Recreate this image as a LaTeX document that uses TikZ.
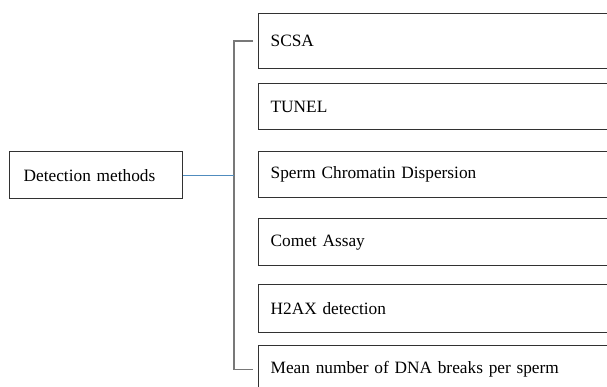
\documentclass[tikz,border=0pt]{standalone}
\usepackage{fontspec}
\setmainfont{Liberation Serif}
\definecolor{linkblue}{RGB}{80,140,190}
\definecolor{boxline}{RGB}{50,50,50}
\definecolor{bracketgray}{RGB}{120,120,120}
\tikzset{
  methodbox/.style={draw=boxline, line width=1.3pt, rectangle, anchor=north west,
    minimum width=362pt, text width=338pt, inner xsep=12pt, inner ysep=0pt,
    align=left, font=\fontsize{17.3}{20}\selectfont},
  rootbox/.style={draw=boxline, line width=1.3pt, rectangle, anchor=north west,
    minimum width=173pt, minimum height=47pt, text width=145pt, inner xsep=14pt,
    inner ysep=0pt, align=left, font=\fontsize{17.3}{20}\selectfont},
  bracket/.style={draw=bracketgray, line width=1.4pt},
  link/.style={draw=linkblue, line width=1.2pt}
}
\begin{document}
\begin{tikzpicture}[x=1pt,y=-1pt]
  \useasboundingbox (0,0) rectangle (607,387);
  \clip (0,0) rectangle (607,387);

  % root of the tree
  \node[rootbox] (root) at (9,151) {Detection methods};

  % the six method boxes (they run past the right edge)
  \node[methodbox, minimum height=55pt] (scsa)  at (258,13)  {SCSA\\[4pt]};
  \node[methodbox, minimum height=46pt] (tunel) at (258,83)  {TUNEL};
  \node[methodbox, minimum height=46pt] (scd)   at (258,151) {Sperm Chromatin Dispersion};
  \node[methodbox, minimum height=47pt] (comet) at (258,218) {Comet Assay};
  \node[methodbox, minimum height=48pt] (h2ax)  at (258,284) {H2AX detection};
  \node[methodbox, minimum height=48pt] (mean)  at (258,345) {Mean number of DNA breaks per sperm};

  % bracket spanning the methods
  \coordinate (topend) at ([xshift=-5pt]scsa.west);
  \coordinate (botend) at ([xshift=-5pt]mean.west);
  \coordinate (spine)  at (234,174);
  \draw[bracket] (topend) -- (topend -| spine) -- (botend -| spine) -- (botend);

  % link from root to bracket
  \draw[link] (root.east) -- (root.east -| spine);
\end{tikzpicture}
\end{document}
